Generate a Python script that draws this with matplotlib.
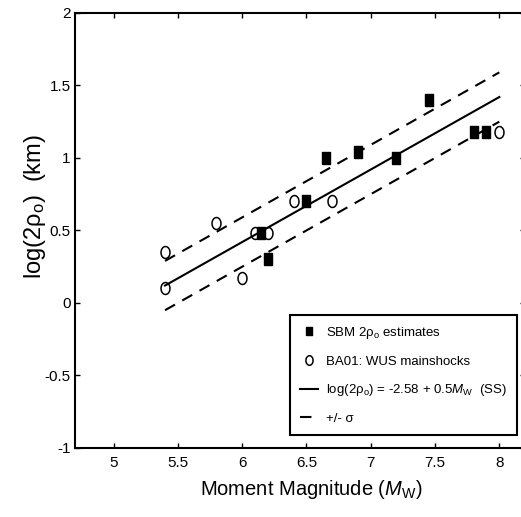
import numpy as np
import matplotlib.pyplot as plt

# SBM 2rho_o estimates (filled squares)
sbm_mw = [6.15, 6.2, 6.5, 6.65, 6.9, 7.2, 7.45, 7.8, 7.9]
sbm_log2rho = [0.48, 0.30, 0.70, 1.00, 1.04, 1.00, 1.40, 1.18, 1.18]

# BA01: WUS mainshocks (open circles)
ba01_mw = [5.4, 5.4, 5.8, 6.0, 6.1, 6.2, 6.4, 6.7, 8.0]
ba01_log2rho = [0.10, 0.35, 0.55, 0.17, 0.48, 0.48, 0.70, 0.70, 1.18]

# regression: log(2rho_o) = a + b*Mw, +/- sigma
fit_a = -2.58
fit_b = 0.5
fit_sigma = 0.17
fit_range = [5.4, 8.0]

xticks = [5, 5.5, 6, 6.5, 7, 7.5, 8]
yticks = [-1, -0.5, 0, 0.5, 1, 1.5, 2]

plt.rcParams['font.family'] = ['Liberation Sans', 'DejaVu Sans']
plt.rcParams['mathtext.fontset'] = 'custom'
plt.rcParams['mathtext.rm'] = 'Liberation Sans'
plt.rcParams['mathtext.it'] = 'Liberation Sans:italic'

# MATLAB-style markers are a bit taller than wide
sq = [(-0.72, -1), (0.72, -1), (0.72, 1), (-0.72, 1), (-0.72, -1)]
t = np.linspace(0, 2 * np.pi, 41)
ell = list(zip(0.75 * np.cos(t), np.sin(t)))

fig = plt.figure(figsize=(5.21, 5.17), dpi=100)
ax = fig.add_axes([0.144, 0.1335, 0.8637, 0.8415])

mw = np.array(fit_range)
fit = fit_a + fit_b * mw

ax.plot(sbm_mw, sbm_log2rho, linestyle='none', marker=sq, color='black', markersize=8,
        label='SBM 2ρ$_{\\rm o}$ estimates')
ax.plot(ba01_mw, ba01_log2rho, linestyle='none', marker=ell, markerfacecolor='none',
        markeredgecolor='black', markeredgewidth=1.1, markersize=8.6, label='BA01: WUS mainshocks')
ax.plot(mw, fit, '-', color='black', linewidth=1.5,
        label='log(2ρ$_{\\rm o}$) = -2.58 + 0.5$M_{\\rm W}$  (SS)')
ax.plot(mw, fit + fit_sigma, '--', color='black', linewidth=1.5, dashes=(5.5, 4), label='+/- σ')
ax.plot(mw, fit - fit_sigma, '--', color='black', linewidth=1.5, dashes=(5.5, 4))

ax.set_xlim(4.7, 8.2)
ax.set_ylim(-1, 2)
ax.set_xticks(xticks)
ax.set_xticklabels(['5', '5.5', '6', '6.5', '7', '7.5', '8'])
ax.set_yticks(yticks)
ax.set_yticklabels(['-1', '-0.5', '0', '0.5', '1', '1.5', '2'])
ax.tick_params(direction='in', length=3.6, width=1, top=True, right=True, labelsize=11)
ax.tick_params(axis='y', pad=3)
ax.tick_params(axis='x', pad=6)
for s in ax.spines.values():
    s.set_linewidth(1.5)

ax.set_xlabel('Moment Magnitude ($M_{\\rm W}$)', fontsize=14.5)
ax.xaxis.set_label_coords(0.524, -0.068)
ax.set_ylabel('log(2ρ$_{\\rm o}$)  (km)', fontsize=17, va='center')
ax.yaxis.set_label_coords(-0.088, 0.556)

leg = ax.legend(loc='lower right', bbox_to_anchor=(0.982, 0.03), fontsize=9.5, frameon=True,
                fancybox=False, edgecolor='black', framealpha=1, handlelength=1.4,
                handletextpad=0.6, labelspacing=1.1, borderpad=0.75, borderaxespad=0,
                markerscale=0.8)
leg.get_frame().set_linewidth(1.5)

fig.savefig('out.png', dpi=100)
